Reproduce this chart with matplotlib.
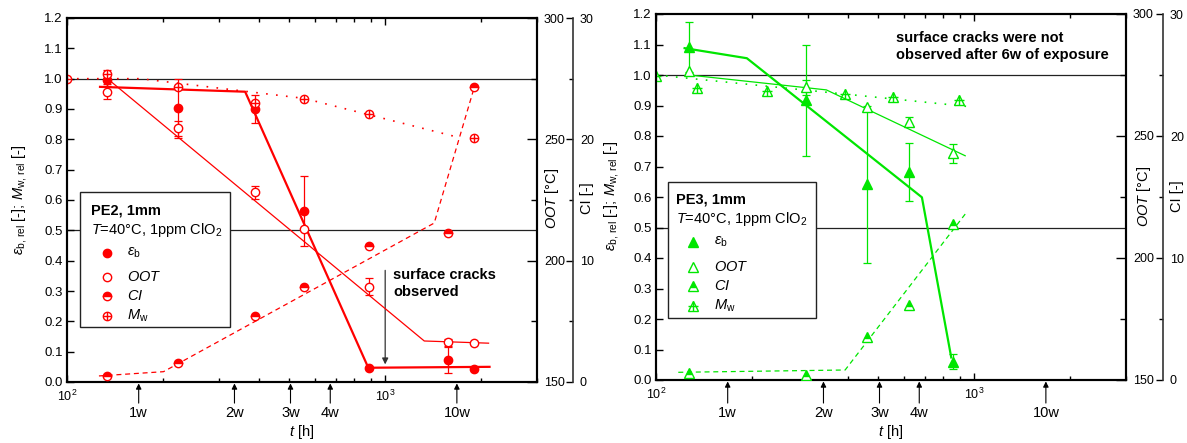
import numpy as np
import matplotlib
matplotlib.use("Agg")
import matplotlib.pyplot as plt
from matplotlib.patches import Rectangle
from matplotlib.ticker import FixedLocator, FormatStrFormatter, NullFormatter, LogLocator

plt.rcParams['font.family'] = ['Liberation Sans', 'DejaVu Sans']
plt.rcParams['mathtext.fontset'] = 'custom'
plt.rcParams['mathtext.rm'] = 'Liberation Sans'
plt.rcParams['mathtext.it'] = 'Liberation Sans:italic'
plt.rcParams['mathtext.bf'] = 'Liberation Sans:bold'

# ---------------- PE2 (red) ----------------
pe2_t_eps = [134, 224, 390, 556, 891, 1570, 1906]
pe2_eps = [0.995, 0.902, 0.900, 0.565, 0.047, 0.072, 0.042]
pe2_eps_err = [0.02, 0.098, 0.046, 0.115, 0.0, 0.042, 0.0]

pe2_t_oot = [134, 224, 390, 556, 891, 1570, 1906]
pe2_oot = [269.6, 254.5, 228.1, 212.9, 189.3, 166.4, 166.1]       # °C
pe2_oot_err = [3.1, 3.0, 2.7, 0.0, 3.6, 1.5, 0.0]

pe2_t_ci = [134, 224, 390, 556, 891, 1570, 1906]
pe2_ci = [0.49, 1.6, 5.4, 7.85, 11.2, 12.3, 24.3]

pe2_t_mw = [100, 134, 224, 390, 556, 891, 1906]
pe2_mw = [1.0, 1.015, 0.973, 0.921, 0.933, 0.884, 0.804]
pe2_mw_err = [0.0, 0.013, 0.0, 0.0, 0.0, 0.0, 0.0]

# trend lines
pe2_fit_eps_t = [127, 363, 885, 2128]
pe2_fit_eps = [0.973, 0.957, 0.047, 0.050]
pe2_fit_oot_t = [134, 1327, 2113]
pe2_fit_oot = [275.0, 166.9, 166.0]
pe2_fit_ci_t = [126, 201, 1426, 1906]
pe2_fit_ci = [0.5, 0.85, 13.1, 24.3]
pe2_fit_mw_t = [100, 170, 556, 1722]
pe2_fit_mw = [1.0, 1.0, 0.935, 0.805]

# ---------------- PE3 (green) ----------------
pe3_t = [127, 296, 460, 625, 857]
pe3_eps = [1.093, 0.918, 0.642, 0.681, 0.060]
pe3_eps_err = [0.082, 0.182, 0.258, 0.095, 0.025]
pe3_oot = [276.6, 270.0, 261.75, 255.9, 242.9]                     # °C
pe3_oot_err = [0.0, 3.0, 0.0, 2.0, 4.0]
pe3_ci = [0.55, 0.41, 3.5, 6.15, 12.8]

pe3_t_mw = [100, 135, 224, 393, 557, 893]
pe3_mw = [0.997, 0.956, 0.948, 0.937, 0.929, 0.918]

pe3_fit_eps_t = [123, 193, 685, 847]
pe3_fit_eps = [1.088, 1.055, 0.599, 0.074]
pe3_fit_oot_t = [127, 343, 937]
pe3_fit_oot = [275.0, 268.9, 241.9]
pe3_fit_ci_t = [117.5, 393, 937]
pe3_fit_ci = [0.63, 0.82, 13.6]
pe3_fit_mw_t = [100, 950]
pe3_fit_mw = [1.0, 0.897]

weeks = [168, 336, 504, 672, 1680]
week_labels = ['1w', '2w', '3w', '4w', '10w']

RED = '#ff0000'
GREEN = '#00e600'

fig = plt.figure(figsize=(11.87, 4.43), dpi=100)
W, H = 1187, 443


def px_axes(l, t, r, b):
    return [l / W, 1 - b / H, (r - l) / W, (b - t) / H]


def errbars(ax, x, y, e, color):
    x = np.asarray(x, float); y = np.asarray(y, float); e = np.asarray(e, float)
    m = e > 0
    ax.errorbar(x[m], y[m], yerr=e[m], fmt='none', ecolor=color,
                elinewidth=0.9, capsize=3, capthick=0.9, zorder=3)


def setup_panel(rect, ci_pos, week_y, lab_y):
    ax = fig.add_axes(rect)
    ax.set_xscale('log')
    ax.set_xlim(100, 3000)
    ax.set_ylim(0, 1.2)
    ax.yaxis.set_major_locator(FixedLocator(np.round(np.arange(0, 1.21, 0.1), 1)))
    ax.yaxis.set_major_formatter(FormatStrFormatter('%.1f'))
    ax.xaxis.set_major_locator(LogLocator(base=10))
    ax.xaxis.set_minor_locator(LogLocator(base=10, subs=np.arange(2, 10)))
    ax.xaxis.set_minor_formatter(NullFormatter())
    ax.tick_params(which='both', direction='in', top=True, labelsize=9, width=1)
    ax.tick_params(axis='x', which='major', length=5, pad=5)
    ax.tick_params(axis='x', which='minor', length=3)
    ax.tick_params(axis='y', which='major', length=5, right=False, pad=3, labelsize=9.5)
    for s in ax.spines.values():
        s.set_linewidth(1.5)
    ax.axhline(1.0, color='#222222', lw=0.9, zorder=1)
    ax.axhline(0.5, color='#222222', lw=0.9, zorder=1)

    ax2 = ax.twinx()
    ax2.set_ylim(150, 300)
    ax2.yaxis.set_major_locator(FixedLocator([150, 200, 250, 300]))
    ax2.yaxis.set_minor_locator(FixedLocator([175, 225, 275]))
    ax2.tick_params(which='both', direction='in', labelsize=9, width=1, pad=5)
    ax2.tick_params(which='major', length=7)
    ax2.tick_params(which='minor', length=4)
    for s in ax2.spines.values():
        s.set_linewidth(1.5)

    ax3 = ax.twinx()
    ax3.spines['right'].set_position(('axes', ci_pos))
    for k in ['top', 'bottom', 'left']:
        ax3.spines[k].set_visible(False)
    ax3.spines['right'].set_linewidth(1.2)
    ax3.spines['right'].set_color('#333333')
    ax3.set_ylim(0, 30)
    ax3.yaxis.set_major_locator(FixedLocator([0, 10, 20, 30]))
    ax3.yaxis.set_minor_locator(FixedLocator([5, 15, 25]))
    ax3.tick_params(which='both', direction='in', labelsize=9, width=1, pad=5)
    ax3.tick_params(which='major', length=5)
    ax3.tick_params(which='minor', length=3)

    for t, lab in zip(weeks, week_labels):
        ax.annotate('', xy=(t, -0.004), xycoords=('data', 'axes fraction'),
                    xytext=(t, week_y), textcoords=('data', 'axes fraction'),
                    arrowprops=dict(arrowstyle='-|>', color='black', lw=0.8,
                                    mutation_scale=8, shrinkA=0, shrinkB=0),
                    annotation_clip=False)
        ax.text(t, lab_y, lab, transform=ax.get_xaxis_transform(), ha='center',
                va='center', fontsize=10.5, clip_on=False)
    return ax, ax2, ax3


def plus_marker(ax, x, y, marker, color, ms):
    ax.plot(x, y, ls='none', marker=marker, ms=ms, mfc='white', mec=color, mew=1.0, zorder=4)
    ax.plot(x, y, ls='none', marker='+', ms=ms * 0.95, mec=color, mew=1.0, zorder=5)


def mk_leg(ax, marker, color, kind, ms):
    def f(x, y):
        common = dict(transform=ax.transAxes, ls='none', marker=marker, ms=ms,
                      mec=color, zorder=7, clip_on=False)
        if kind == 'filled':
            ax.plot([x], [y], mfc=color, **common)
        elif kind == 'open':
            ax.plot([x], [y], mfc='white', mew=1.0, **common)
        elif kind == 'half':
            ax.plot([x], [y], fillstyle='top', mfc=color, mfcalt='white', mew=1.0, **common)
        else:
            ax.plot([x], [y], mfc='white', mew=1.0, **common)
            ax.plot([x], [y], transform=ax.transAxes, ls='none', marker='+', ms=ms * 0.95,
                    mec=color, mew=1.0, zorder=8, clip_on=False)
    return f


def legend_box(ax, box, title, x_mark, x_text, rows, marker, color, ms):
    x0, y0, x1, y1 = box
    ax.add_patch(Rectangle((x0, y0), x1 - x0, y1 - y0, transform=ax.transAxes,
                           facecolor='white', edgecolor='#222222', lw=1.0, zorder=6))
    tx, ty1, ty2, name = title
    ax.text(tx, ty1, name, transform=ax.transAxes, fontsize=10.5,
            fontweight='bold', va='center', ha='left', zorder=7)
    ax.text(tx, ty2, r'$T$=40°C, 1ppm ClO$_2$', transform=ax.transAxes,
            fontsize=10.5, va='center', ha='left', zorder=7)
    labels = [r'$\varepsilon_{\mathrm{b}}$', r'$OOT$', r'$CI$', r'$M_{\mathrm{w}}$']
    kinds = ['filled', 'open', 'half', 'plus']
    for yy, lab, kind in zip(rows, labels, kinds):
        mk_leg(ax, marker, color, kind, ms)(x_mark, yy)
        ax.text(x_text, yy, lab, transform=ax.transAxes, fontsize=10.5,
                va='center', ha='left', zorder=7)


YLAB = r'$\varepsilon_{\mathrm{b,\,rel}}$ [-]; $M_{\mathrm{w,\,rel}}$ [-]'

# ================= left panel: PE2 =================
axL, axL2, axL3 = setup_panel(px_axes(67, 18, 537, 382), (573 - 67) / 470,
                              -0.058, -0.085)

axL.plot(pe2_fit_eps_t, pe2_fit_eps, color=RED, lw=1.6, zorder=2)
axL2.plot(pe2_fit_oot_t, pe2_fit_oot, color=RED, lw=0.9, zorder=2)
axL3.plot(pe2_fit_ci_t, pe2_fit_ci, color=RED, lw=0.9, ls=(0, (4, 3)), zorder=2)
axL.plot(pe2_fit_mw_t, pe2_fit_mw, color=RED, lw=1.2, ls=(0, (1, 5)), zorder=2)

errbars(axL, pe2_t_eps, pe2_eps, pe2_eps_err, RED)
errbars(axL2, pe2_t_oot, pe2_oot, pe2_oot_err, RED)
errbars(axL, pe2_t_mw, pe2_mw, pe2_mw_err, RED)

axL.plot(pe2_t_eps, pe2_eps, ls='none', marker='o', ms=6, mfc=RED, mec=RED, zorder=4)
axL2.plot(pe2_t_oot, pe2_oot, ls='none', marker='o', ms=6, mfc='white', mec=RED, mew=1.0, zorder=4)
axL3.plot(pe2_t_ci, pe2_ci, ls='none', marker='o', ms=6, fillstyle='top', mfc=RED,
          mfcalt='white', mec=RED, mew=1.0, zorder=4)
plus_marker(axL, pe2_t_mw, pe2_mw, 'o', RED, 6)

axL.annotate('', xy=(1000, 0.058), xytext=(1000, 0.368),
             arrowprops=dict(arrowstyle='-|>', color='#333333', lw=0.9,
                             mutation_scale=9, shrinkA=0, shrinkB=0))
axL.text(1059, 0.325, 'surface cracks\nobserved', fontsize=10.5, fontweight='bold',
         ha='left', va='center', linespacing=1.3)

legend_box(axL, (0.0277, 0.151, 0.347, 0.522), (0.051, 0.4725, 0.4176, 'PE2, 1mm'),
           0.085, 0.1277, [0.354, 0.288, 0.236, 0.181], 'o', RED, 6)

fig.text(20 / W, 1 - 200 / H, YLAB, rotation=90, ha='center', va='center', fontsize=10.5)
fig.text(552 / W, 1 - 198 / H, r'$OOT$ [°C]', rotation=90, ha='center', va='center', fontsize=10.5)
fig.text(587 / W, 1 - 198 / H, 'CI [-]', rotation=90, ha='center', va='center', fontsize=10.5)
fig.text(302 / W, 1 - 432 / H, r'$t$ [h]', ha='center', va='center', fontsize=10.5)

# ================= right panel: PE3 =================
axR, axR2, axR3 = setup_panel(px_axes(656, 14, 1126, 380), (1163 - 656) / 470,
                              -0.063, -0.09)

axR.plot(pe3_fit_eps_t, pe3_fit_eps, color=GREEN, lw=1.6, zorder=2)
axR2.plot(pe3_fit_oot_t, pe3_fit_oot, color=GREEN, lw=0.9, zorder=2)
axR3.plot(pe3_fit_ci_t, pe3_fit_ci, color=GREEN, lw=0.9, ls=(0, (4, 3)), zorder=2)
axR.plot(pe3_fit_mw_t, pe3_fit_mw, color=GREEN, lw=1.2, ls=(0, (1, 5)), zorder=2)

errbars(axR, pe3_t, pe3_eps, pe3_eps_err, GREEN)
errbars(axR2, pe3_t, pe3_oot, pe3_oot_err, GREEN)

axR.plot(pe3_t, pe3_eps, ls='none', marker='^', ms=7, mfc=GREEN, mec=GREEN, zorder=4)
axR2.plot(pe3_t, pe3_oot, ls='none', marker='^', ms=7, mfc='white', mec=GREEN, mew=1.0, zorder=4)
axR3.plot(pe3_t, pe3_ci, ls='none', marker='^', ms=7, fillstyle='top', mfc=GREEN,
          mfcalt='white', mec=GREEN, mew=1.0, zorder=4)
plus_marker(axR, pe3_t_mw, pe3_mw, '^', GREEN, 7)

axR.text(569, 1.093, 'surface cracks were not\nobserved after 6w of exposure',
         fontsize=10.5, fontweight='bold', ha='left', va='center', linespacing=1.3)

legend_box(axR, (0.0255, 0.169, 0.340, 0.541), (0.0426, 0.4945, 0.44, 'PE3, 1mm'),
           0.0787, 0.123, [0.377, 0.309, 0.257, 0.202], '^', GREEN, 7)

fig.text(612 / W, 1 - 196 / H, YLAB, rotation=90, ha='center', va='center', fontsize=10.5)
fig.text(1144 / W, 1 - 196 / H, r'$OOT$ [°C]', rotation=90, ha='center', va='center', fontsize=10.5)
fig.text(1177 / W, 1 - 196 / H, 'CI [-]', rotation=90, ha='center', va='center', fontsize=10.5)
fig.text(891 / W, 1 - 432 / H, r'$t$ [h]', ha='center', va='center', fontsize=10.5)

fig.savefig('out.png', dpi=100)
